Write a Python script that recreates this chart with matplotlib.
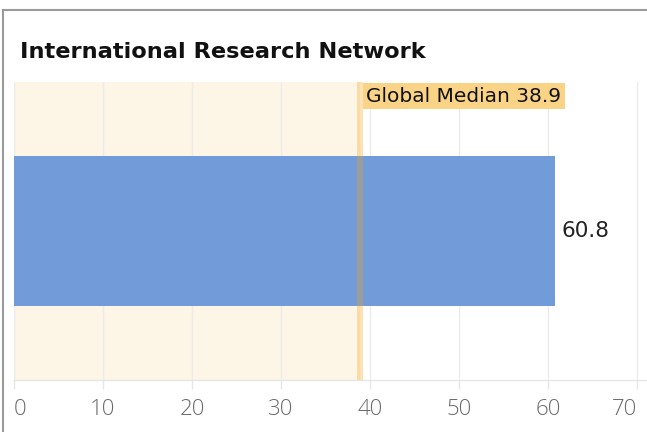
import matplotlib
matplotlib.use("Agg")
import matplotlib.pyplot as plt
from matplotlib.lines import Line2D

title = "International Research Network"
categories = ["International Research Network"]
values = [60.8]
median_value = 38.9
median_label = "Global Median 38.9"
x_ticks = [0, 10, 20, 30, 40, 50, 60, 70]

W, H = 647, 432
DPI = 100
PT = 72 / DPI  # points per pixel

fig = plt.figure(figsize=(W / DPI, H / DPI), dpi=DPI)
fig.patch.set_facecolor("white")

# card border (top & left visible)
fig.add_artist(Line2D([3 / W, 3 / W], [0, 1 - 10 / H], color="#9a9a9a", lw=1.5, transform=fig.transFigure))
fig.add_artist(Line2D([3 / W, 1], [1 - 10 / H, 1 - 10 / H], color="#9a9a9a", lw=1.5, transform=fig.transFigure))

ax = fig.add_axes([14 / W, 52 / H, (W - 14) / W, 298 / H])
ax.set_xlim(0, (W - 14) / 8.9)
ax.set_ylim(-0.5, 0.5)

# median shading
ax.axvspan(0, median_value, color="#fdf5e6", zorder=0, lw=0)
# grid
ax.set_xticks(x_ticks)
ax.grid(axis="x", color="#ececec", lw=1, zorder=0.5)
ax.set_axisbelow(True)

# bar
ax.barh([0], values, height=0.506, color="#729cd9", zorder=2)

# median line
ax.axvline(median_value, color="#f7a20a", alpha=0.3, lw=6 * PT, zorder=3)

# median label
ax.annotate(median_label, xy=(median_value, 1), xycoords=("data", "axes fraction"),
            xytext=(6 * PT, -4.5 * PT), textcoords="offset points",
            ha="left", va="top", fontsize=14.5, color="#111111",
            family="DejaVu Sans",
            bbox=dict(boxstyle="square,pad=0.17", fc="#fad486", ec="none"), zorder=4)

# value label
for i, v in enumerate(values):
    ax.annotate(f"{v}", xy=(v, i), xytext=(6 * PT, 0), textcoords="offset points",
                ha="left", va="center", fontsize=15.5, color="#222222",
                family="DejaVu Sans", zorder=4)

for s in ["top", "right", "left"]:
    ax.spines[s].set_visible(False)
ax.spines["bottom"].set_color("#e6e6e6")
ax.spines["bottom"].set_linewidth(1)
ax.set_yticks([])
ax.tick_params(axis="x", length=9 * PT, width=1, color="#e6e6e6", pad=10 * PT,
               labelsize=16, labelcolor="#6a6a6a")
ax.set_xticklabels([str(t) for t in x_ticks], family="Open Sans", fontweight="light")
labels = ax.get_xticklabels()
labels[0].set_ha("left")
labels[-1].set_ha("right")

fig.text(20 / W, 1 - 58 / H, title, fontsize=16.2, fontweight="bold",
         family="DejaVu Sans", color="#111111", ha="left", va="baseline")

fig.savefig("out.png", dpi=DPI)
